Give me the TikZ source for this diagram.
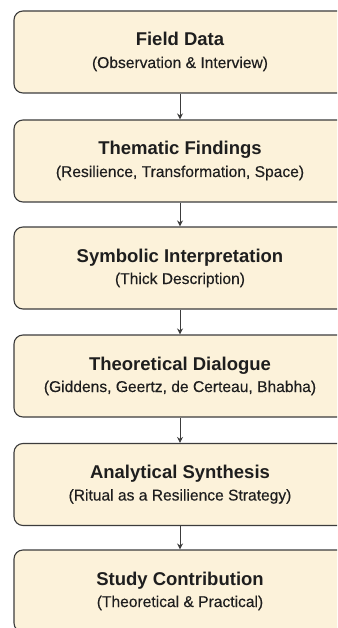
\documentclass[tikz,border=0pt]{standalone}
\usepackage{fontspec}
\setmainfont{Liberation Sans}
\newfontfamily\subfam[FakeBold=0.3]{Liberation Sans}
\usetikzlibrary{arrows.meta}
\definecolor{boxfill}{HTML}{FCF2DA}
\definecolor{boxline}{HTML}{3C3C3C}
\definecolor{txt}{HTML}{1E1E1E}
\tikzset{
  stagebox/.style={draw=boxline, line width=1.1pt, fill=boxfill, rounded corners=9pt,
    minimum width=332pt, minimum height=82pt, inner sep=0pt},
  titletxt/.style={anchor=base, inner sep=0pt, text=txt, font=\fontsize{18.5}{22}\selectfont\bfseries},
  subtxt/.style={anchor=base, inner sep=0pt, text=txt, font=\subfam\fontsize{15.6}{19}\selectfont},
  flowarrow/.style={draw=boxline, line width=0.9pt, -{Stealth[length=6pt,width=6pt]}}
}
\begin{document}
\begin{tikzpicture}[x=1pt,y=-1pt]
\useasboundingbox (0,0) rectangle (337,628);
\clip (0,0) rectangle (337,628);
\fill[white] (0,0) rectangle (337,628);
% boxes: top = 11 + 107.8 i, height 82, center x 180
\node[stagebox] (b1) at (180,52) {};
\node[stagebox] (b2) at (180,161) {};
\node[stagebox] (b3) at (180,268) {};
\node[stagebox] (b4) at (180,376) {};
\node[stagebox] (b5) at (180,484.5) {};
\node[stagebox] (b6) at (180,591) {};
% texts
\node[titletxt] (t1) at (180,46) {Field Data};
\node[subtxt] (s1) at (180,68) {(Observation \& Interview)};
\node[titletxt] (t2) at (180,155) {Thematic Findings};
\node[subtxt] (s2) at (180,177) {(Resilience, Transformation, Space)};
\node[titletxt] (t3) at (180,262) {Symbolic Interpretation};
\node[subtxt] (s3) at (180,284) {(Thick Description)};
\node[titletxt] (t4) at (180,370) {Theoretical Dialogue};
\node[subtxt] (s4) at (180,392) {(Giddens, Geertz, de Certeau, Bhabha)};
\node[titletxt] (t5) at (180,478.5) {Analytical Synthesis};
\node[subtxt] (s5) at (180,500.5) {(Ritual as a Resilience Strategy)};
\node[titletxt] (t6) at (180,585) {Study Contribution};
\node[subtxt] (s6) at (180,607) {(Theoretical \& Practical)};
% arrows
\draw[flowarrow] (b1.south) -- (b2.north);
\draw[flowarrow] (b2.south) -- (b3.north);
\draw[flowarrow] (b3.south) -- (b4.north);
\draw[flowarrow] (b4.south) -- (b5.north);
\draw[flowarrow] (b5.south) -- (b6.north);
\end{tikzpicture}
\end{document}
